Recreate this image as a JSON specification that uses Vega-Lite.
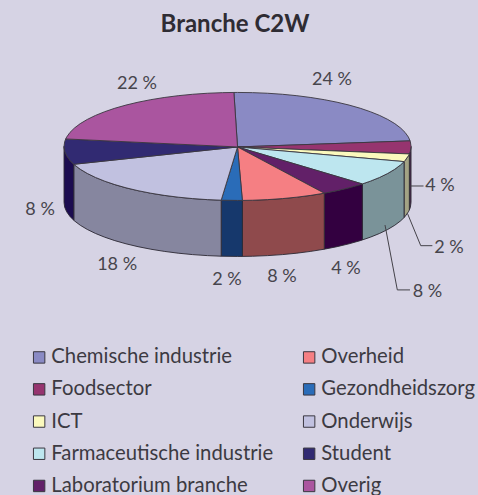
{"$schema":"https://vega.github.io/schema/vega-lite/v6.json","width":478,"height":495,"autosize":{"type":"none"},"padding":0,"background":"#d6d3e4","config":{"view":{"stroke":null}},
"title":{"text":"Branche C2W","font":"Lato","fontSize":24,"fontWeight":"bold","color":"#2f2c33","anchor":"middle","dx":-4,"offset":-37},
"datasets":{
"tops":[
{"slice":"Chemische industrie","i":0,"x":0,"y":-0.3},{"slice":"Chemische industrie","i":1,"x":-2.09,"y":31.11},{"slice":"Chemische industrie","i":2,"x":0,"y":31.12},{"slice":"Chemische industrie","i":3,"x":8.72,"y":31},{"slice":"Chemische industrie","i":4,"x":17.36,"y":30.65},{"slice":"Chemische industrie","i":5,"x":25.88,"y":30.06},{"slice":"Chemische industrie","i":6,"x":34.2,"y":29.24},{"slice":"Chemische industrie","i":7,"x":42.26,"y":28.2},{"slice":"Chemische industrie","i":8,"x":50,"y":26.95},{"slice":"Chemische industrie","i":9,"x":57.36,"y":25.49},{"slice":"Chemische industrie","i":10,"x":64.28,"y":23.84},{"slice":"Chemische industrie","i":11,"x":70.71,"y":22.01},{"slice":"Chemische industrie","i":12,"x":76.6,"y":20},{"slice":"Chemische industrie","i":13,"x":81.92,"y":17.85},{"slice":"Chemische industrie","i":14,"x":86.6,"y":15.56},{"slice":"Chemische industrie","i":15,"x":90.63,"y":13.15},{"slice":"Chemische industrie","i":16,"x":93.97,"y":10.64},{"slice":"Chemische industrie","i":17,"x":96.59,"y":8.05},{"slice":"Chemische industrie","i":18,"x":98.48,"y":5.4},{"slice":"Chemische industrie","i":19,"x":99.47,"y":3.2},{"slice":"Chemische industrie","i":20,"x":0,"y":-0.3},
{"slice":"Foodsector","i":0,"x":0,"y":-0.3},{"slice":"Foodsector","i":1,"x":99.47,"y":3.2},{"slice":"Foodsector","i":2,"x":99.62,"y":2.71},{"slice":"Foodsector","i":3,"x":100,"y":0},{"slice":"Foodsector","i":4,"x":99.62,"y":-2.71},{"slice":"Foodsector","i":5,"x":99.03,"y":-4.33},{"slice":"Foodsector","i":6,"x":0,"y":-0.3},
{"slice":"ICT","i":0,"x":0,"y":-0.3},{"slice":"ICT","i":1,"x":99.03,"y":-4.33},{"slice":"ICT","i":2,"x":98.48,"y":-5.4},{"slice":"ICT","i":3,"x":96.59,"y":-8.05},{"slice":"ICT","i":4,"x":95.98,"y":-8.74},{"slice":"ICT","i":5,"x":0,"y":-0.3},
{"slice":"Farmaceutische industrie","i":0,"x":0,"y":-0.3},{"slice":"Farmaceutische industrie","i":1,"x":95.98,"y":-8.74},{"slice":"Farmaceutische industrie","i":2,"x":93.97,"y":-10.64},{"slice":"Farmaceutische industrie","i":3,"x":90.63,"y":-13.15},{"slice":"Farmaceutische industrie","i":4,"x":86.6,"y":-15.56},{"slice":"Farmaceutische industrie","i":5,"x":81.92,"y":-17.85},{"slice":"Farmaceutische industrie","i":6,"x":76.6,"y":-20},{"slice":"Farmaceutische industrie","i":7,"x":71.93,"y":-21.62},{"slice":"Farmaceutische industrie","i":8,"x":0,"y":-0.3},
{"slice":"Laboratorium branche","i":0,"x":0,"y":-0.3},{"slice":"Laboratorium branche","i":1,"x":71.93,"y":-21.62},{"slice":"Laboratorium branche","i":2,"x":70.71,"y":-22.01},{"slice":"Laboratorium branche","i":3,"x":64.28,"y":-23.84},{"slice":"Laboratorium branche","i":4,"x":57.36,"y":-25.49},{"slice":"Laboratorium branche","i":5,"x":50,"y":-26.95},{"slice":"Laboratorium branche","i":6,"x":0,"y":-0.3},
{"slice":"Overheid","i":0,"x":0,"y":-0.3},{"slice":"Overheid","i":1,"x":50,"y":-26.95},{"slice":"Overheid","i":2,"x":42.26,"y":-28.2},{"slice":"Overheid","i":3,"x":34.2,"y":-29.24},{"slice":"Overheid","i":4,"x":25.88,"y":-30.06},{"slice":"Overheid","i":5,"x":17.36,"y":-30.65},{"slice":"Overheid","i":6,"x":8.72,"y":-31},{"slice":"Overheid","i":7,"x":2.79,"y":-31.11},{"slice":"Overheid","i":8,"x":0,"y":-0.3},
{"slice":"Gezondheidszorg","i":0,"x":0,"y":-0.3},{"slice":"Gezondheidszorg","i":1,"x":2.79,"y":-31.11},{"slice":"Gezondheidszorg","i":2,"x":0,"y":-31.12},{"slice":"Gezondheidszorg","i":3,"x":-9.41,"y":-30.98},{"slice":"Gezondheidszorg","i":4,"x":0,"y":-0.3},
{"slice":"Onderwijs","i":0,"x":0,"y":-0.3},{"slice":"Onderwijs","i":1,"x":-9.41,"y":-30.98},{"slice":"Onderwijs","i":2,"x":-17.36,"y":-30.65},{"slice":"Onderwijs","i":3,"x":-25.88,"y":-30.06},{"slice":"Onderwijs","i":4,"x":-34.2,"y":-29.24},{"slice":"Onderwijs","i":5,"x":-42.26,"y":-28.2},{"slice":"Onderwijs","i":6,"x":-50,"y":-26.95},{"slice":"Onderwijs","i":7,"x":-57.36,"y":-25.49},{"slice":"Onderwijs","i":8,"x":-64.28,"y":-23.84},{"slice":"Onderwijs","i":9,"x":-70.71,"y":-22.01},{"slice":"Onderwijs","i":10,"x":-76.6,"y":-20},{"slice":"Onderwijs","i":11,"x":-81.92,"y":-17.85},{"slice":"Onderwijs","i":12,"x":-86.6,"y":-15.56},{"slice":"Onderwijs","i":13,"x":-90.63,"y":-13.15},{"slice":"Onderwijs","i":14,"x":-93.97,"y":-10.64},{"slice":"Onderwijs","i":15,"x":-94.38,"y":-10.29},{"slice":"Onderwijs","i":16,"x":0,"y":-0.3},
{"slice":"Student","i":0,"x":0,"y":-0.3},{"slice":"Student","i":1,"x":-94.38,"y":-10.29},{"slice":"Student","i":2,"x":-96.59,"y":-8.05},{"slice":"Student","i":3,"x":-98.48,"y":-5.4},{"slice":"Student","i":4,"x":-99.62,"y":-2.71},{"slice":"Student","i":5,"x":-100,"y":0},{"slice":"Student","i":6,"x":-99.62,"y":2.71},{"slice":"Student","i":7,"x":-99.03,"y":4.33},{"slice":"Student","i":8,"x":0,"y":-0.3},
{"slice":"Overig","i":0,"x":0,"y":-0.3},{"slice":"Overig","i":1,"x":-99.03,"y":4.33},{"slice":"Overig","i":2,"x":-98.48,"y":5.4},{"slice":"Overig","i":3,"x":-96.59,"y":8.05},{"slice":"Overig","i":4,"x":-93.97,"y":10.64},{"slice":"Overig","i":5,"x":-90.63,"y":13.15},{"slice":"Overig","i":6,"x":-86.6,"y":15.56},{"slice":"Overig","i":7,"x":-81.92,"y":17.85},{"slice":"Overig","i":8,"x":-76.6,"y":20},{"slice":"Overig","i":9,"x":-70.71,"y":22.01},{"slice":"Overig","i":10,"x":-64.28,"y":23.84},{"slice":"Overig","i":11,"x":-57.36,"y":25.49},{"slice":"Overig","i":12,"x":-50,"y":26.95},{"slice":"Overig","i":13,"x":-42.26,"y":28.2},{"slice":"Overig","i":14,"x":-34.2,"y":29.24},{"slice":"Overig","i":15,"x":-25.88,"y":30.06},{"slice":"Overig","i":16,"x":-17.36,"y":30.65},{"slice":"Overig","i":17,"x":-8.72,"y":31},{"slice":"Overig","i":18,"x":-2.09,"y":31.11},{"slice":"Overig","i":19,"x":0,"y":-0.3}
],
"walls":[
{"slice":"Foodsector","i":0,"x":100,"y":0},{"slice":"Foodsector","i":1,"x":99.62,"y":-2.71},{"slice":"Foodsector","i":2,"x":99.03,"y":-4.33},{"slice":"Foodsector","i":3,"x":99.03,"y":-36.61},{"slice":"Foodsector","i":4,"x":99.62,"y":-34.99},{"slice":"Foodsector","i":5,"x":100,"y":-32.28},{"slice":"Foodsector","i":6,"x":100,"y":0},
{"slice":"ICT","i":0,"x":99.03,"y":-4.33},{"slice":"ICT","i":1,"x":98.48,"y":-5.4},{"slice":"ICT","i":2,"x":96.59,"y":-8.05},{"slice":"ICT","i":3,"x":95.98,"y":-8.74},{"slice":"ICT","i":4,"x":95.98,"y":-41.02},{"slice":"ICT","i":5,"x":96.59,"y":-40.33},{"slice":"ICT","i":6,"x":98.48,"y":-37.68},{"slice":"ICT","i":7,"x":99.03,"y":-36.61},{"slice":"ICT","i":8,"x":99.03,"y":-4.33},
{"slice":"Farmaceutische industrie","i":0,"x":95.98,"y":-8.74},{"slice":"Farmaceutische industrie","i":1,"x":93.97,"y":-10.64},{"slice":"Farmaceutische industrie","i":2,"x":90.63,"y":-13.15},{"slice":"Farmaceutische industrie","i":3,"x":86.6,"y":-15.56},{"slice":"Farmaceutische industrie","i":4,"x":81.92,"y":-17.85},{"slice":"Farmaceutische industrie","i":5,"x":76.6,"y":-20},{"slice":"Farmaceutische industrie","i":6,"x":71.93,"y":-21.62},{"slice":"Farmaceutische industrie","i":7,"x":71.93,"y":-53.9},{"slice":"Farmaceutische industrie","i":8,"x":76.6,"y":-52.28},{"slice":"Farmaceutische industrie","i":9,"x":81.92,"y":-50.13},{"slice":"Farmaceutische industrie","i":10,"x":86.6,"y":-47.84},{"slice":"Farmaceutische industrie","i":11,"x":90.63,"y":-45.43},{"slice":"Farmaceutische industrie","i":12,"x":93.97,"y":-42.92},{"slice":"Farmaceutische industrie","i":13,"x":95.98,"y":-41.02},{"slice":"Farmaceutische industrie","i":14,"x":95.98,"y":-8.74},
{"slice":"Laboratorium branche","i":0,"x":71.93,"y":-21.62},{"slice":"Laboratorium branche","i":1,"x":70.71,"y":-22.01},{"slice":"Laboratorium branche","i":2,"x":64.28,"y":-23.84},{"slice":"Laboratorium branche","i":3,"x":57.36,"y":-25.49},{"slice":"Laboratorium branche","i":4,"x":50,"y":-26.95},{"slice":"Laboratorium branche","i":5,"x":50,"y":-59.23},{"slice":"Laboratorium branche","i":6,"x":57.36,"y":-57.77},{"slice":"Laboratorium branche","i":7,"x":64.28,"y":-56.12},{"slice":"Laboratorium branche","i":8,"x":70.71,"y":-54.29},{"slice":"Laboratorium branche","i":9,"x":71.93,"y":-53.9},{"slice":"Laboratorium branche","i":10,"x":71.93,"y":-21.62},
{"slice":"Overheid","i":0,"x":50,"y":-26.95},{"slice":"Overheid","i":1,"x":42.26,"y":-28.2},{"slice":"Overheid","i":2,"x":34.2,"y":-29.24},{"slice":"Overheid","i":3,"x":25.88,"y":-30.06},{"slice":"Overheid","i":4,"x":17.36,"y":-30.65},{"slice":"Overheid","i":5,"x":8.72,"y":-31},{"slice":"Overheid","i":6,"x":2.79,"y":-31.11},{"slice":"Overheid","i":7,"x":2.79,"y":-63.39},{"slice":"Overheid","i":8,"x":8.72,"y":-63.28},{"slice":"Overheid","i":9,"x":17.36,"y":-62.93},{"slice":"Overheid","i":10,"x":25.88,"y":-62.34},{"slice":"Overheid","i":11,"x":34.2,"y":-61.52},{"slice":"Overheid","i":12,"x":42.26,"y":-60.48},{"slice":"Overheid","i":13,"x":50,"y":-59.23},{"slice":"Overheid","i":14,"x":50,"y":-26.95},
{"slice":"Gezondheidszorg","i":0,"x":2.79,"y":-31.11},{"slice":"Gezondheidszorg","i":1,"x":0,"y":-31.12},{"slice":"Gezondheidszorg","i":2,"x":-9.41,"y":-30.98},{"slice":"Gezondheidszorg","i":3,"x":-9.41,"y":-63.26},{"slice":"Gezondheidszorg","i":4,"x":0,"y":-63.4},{"slice":"Gezondheidszorg","i":5,"x":2.79,"y":-63.39},{"slice":"Gezondheidszorg","i":6,"x":2.79,"y":-31.11},
{"slice":"Onderwijs","i":0,"x":-9.41,"y":-30.98},{"slice":"Onderwijs","i":1,"x":-17.36,"y":-30.65},{"slice":"Onderwijs","i":2,"x":-25.88,"y":-30.06},{"slice":"Onderwijs","i":3,"x":-34.2,"y":-29.24},{"slice":"Onderwijs","i":4,"x":-42.26,"y":-28.2},{"slice":"Onderwijs","i":5,"x":-50,"y":-26.95},{"slice":"Onderwijs","i":6,"x":-57.36,"y":-25.49},{"slice":"Onderwijs","i":7,"x":-64.28,"y":-23.84},{"slice":"Onderwijs","i":8,"x":-70.71,"y":-22.01},{"slice":"Onderwijs","i":9,"x":-76.6,"y":-20},{"slice":"Onderwijs","i":10,"x":-81.92,"y":-17.85},{"slice":"Onderwijs","i":11,"x":-86.6,"y":-15.56},{"slice":"Onderwijs","i":12,"x":-90.63,"y":-13.15},{"slice":"Onderwijs","i":13,"x":-93.97,"y":-10.64},{"slice":"Onderwijs","i":14,"x":-94.38,"y":-10.29},{"slice":"Onderwijs","i":15,"x":-94.38,"y":-42.57},{"slice":"Onderwijs","i":16,"x":-93.97,"y":-42.92},{"slice":"Onderwijs","i":17,"x":-90.63,"y":-45.43},{"slice":"Onderwijs","i":18,"x":-86.6,"y":-47.84},{"slice":"Onderwijs","i":19,"x":-81.92,"y":-50.13},{"slice":"Onderwijs","i":20,"x":-76.6,"y":-52.28},{"slice":"Onderwijs","i":21,"x":-70.71,"y":-54.29},{"slice":"Onderwijs","i":22,"x":-64.28,"y":-56.12},{"slice":"Onderwijs","i":23,"x":-57.36,"y":-57.77},{"slice":"Onderwijs","i":24,"x":-50,"y":-59.23},{"slice":"Onderwijs","i":25,"x":-42.26,"y":-60.48},{"slice":"Onderwijs","i":26,"x":-34.2,"y":-61.52},{"slice":"Onderwijs","i":27,"x":-25.88,"y":-62.34},{"slice":"Onderwijs","i":28,"x":-17.36,"y":-62.93},{"slice":"Onderwijs","i":29,"x":-9.41,"y":-63.26},{"slice":"Onderwijs","i":30,"x":-9.41,"y":-30.98},
{"slice":"Student","i":0,"x":-94.38,"y":-10.29},{"slice":"Student","i":1,"x":-96.59,"y":-8.05},{"slice":"Student","i":2,"x":-98.48,"y":-5.4},{"slice":"Student","i":3,"x":-99.62,"y":-2.71},{"slice":"Student","i":4,"x":-100,"y":0},{"slice":"Student","i":5,"x":-100,"y":-32.28},{"slice":"Student","i":6,"x":-99.62,"y":-34.99},{"slice":"Student","i":7,"x":-98.48,"y":-37.68},{"slice":"Student","i":8,"x":-96.59,"y":-40.33},{"slice":"Student","i":9,"x":-94.38,"y":-42.57},{"slice":"Student","i":10,"x":-94.38,"y":-10.29}
],
"leaders":[
{"leader":"4 %","i":0,"x":99.7,"y":-22.8},{"leader":"4 %","i":1,"x":107.2,"y":-22.8},
{"leader":"2 %","i":0,"x":97.9,"y":-38.5},{"leader":"2 %","i":1,"x":105.6,"y":-57.2},{"leader":"2 %","i":2,"x":112.3,"y":-57.2},
{"leader":"8 %","i":0,"x":85,"y":-45.3},{"leader":"8 %","i":1,"x":92.1,"y":-82.7},{"leader":"8 %","i":2,"x":99.4,"y":-82.7}
],
"labels":[
{"slice":"Chemische industrie","pct":"24 %","x":54.4,"y":39.3},
{"slice":"Foodsector","pct":"4 %","x":116.7,"y":-22.2},
{"slice":"ICT","pct":"2 %","x":121.9,"y":-57.5},
{"slice":"Farmaceutische industrie","pct":"8 %","x":109.5,"y":-83.3},
{"slice":"Laboratorium branche","pct":"4 %","x":62.5,"y":-70},
{"slice":"Overheid","pct":"8 %","x":25.6,"y":-74.6},
{"slice":"Gezondheidszorg","pct":"2 %","x":-6.1,"y":-76.4},
{"slice":"Onderwijs","pct":"18 %","x":-69.4,"y":-67.7},
{"slice":"Student","pct":"8 %","x":-113.8,"y":-35.5},
{"slice":"Overig","pct":"22 %","x":-57.9,"y":37}
]},
"layer":[
{"data":{"name":"walls"},"mark":{"type":"line","stroke":"#2b2833","strokeWidth":0.9,"strokeJoin":"round"},
"encoding":{"x":{"field":"x","type":"quantitative","axis":null,"scale":{"domain":[-136.9,138.6],"nice":false,"zero":false}},"y":{"field":"y","type":"quantitative","axis":null,"scale":{"domain":[-200.9,84.4],"nice":false,"zero":false}},"order":{"field":"i","type":"quantitative"},"fill":{"field":"slice","type":"nominal","legend":null,"scale":{"domain":["Foodsector","ICT","Farmaceutische industrie","Laboratorium branche","Overheid","Gezondheidszorg","Onderwijs","Student"],"range":["#4a2a4c","#a3a384","#7a9399","#330040","#8f4a4c","#16386c","#86869f","#1c0c50"]}}}},
{"data":{"name":"tops"},"mark":{"type":"line","stroke":"#3a3740","strokeWidth":0.9,"strokeJoin":"round"},
"encoding":{"x":{"field":"x","type":"quantitative"},"y":{"field":"y","type":"quantitative"},"order":{"field":"i","type":"quantitative"},"fill":{"field":"slice","type":"nominal","sort":null,"scale":{"domain":["Chemische industrie","Foodsector","ICT","Farmaceutische industrie","Laboratorium branche","Overheid","Gezondheidszorg","Onderwijs","Student","Overig"],"range":["#8a8ac4","#96346f","#fbf9bd","#bde6ef","#622068","#f57f83","#2a6cb8","#c1c1e0","#312a72","#aa559f"]},"legend":{"title":null,"orient":"none","legendX":29,"legendY":347,"direction":"vertical","columns":2,"symbolType":"square","symbolSize":130,"symbolStrokeColor":"#3a3740","symbolStrokeWidth":1,"labelFont":"Lato","labelFontSize":20.3,"labelColor":"#3c3a42","labelLimit":260,"rowPadding":11.2,"columnPadding":25,"labelOffset":2}}}},
{"data":{"name":"leaders"},"mark":{"type":"line","stroke":"#444249","strokeWidth":1},
"encoding":{"x":{"field":"x","type":"quantitative"},"y":{"field":"y","type":"quantitative"},"order":{"field":"i","type":"quantitative"},"detail":{"field":"leader","type":"nominal"}}},
{"data":{"name":"labels"},"mark":{"type":"text","font":"Lato","fontSize":18,"color":"#47454c","dy":1.5},
"encoding":{"x":{"field":"x","type":"quantitative"},"y":{"field":"y","type":"quantitative"},"text":{"field":"pct","type":"nominal"}}}
],
"resolve":{"scale":{"fill":"independent"}}}
